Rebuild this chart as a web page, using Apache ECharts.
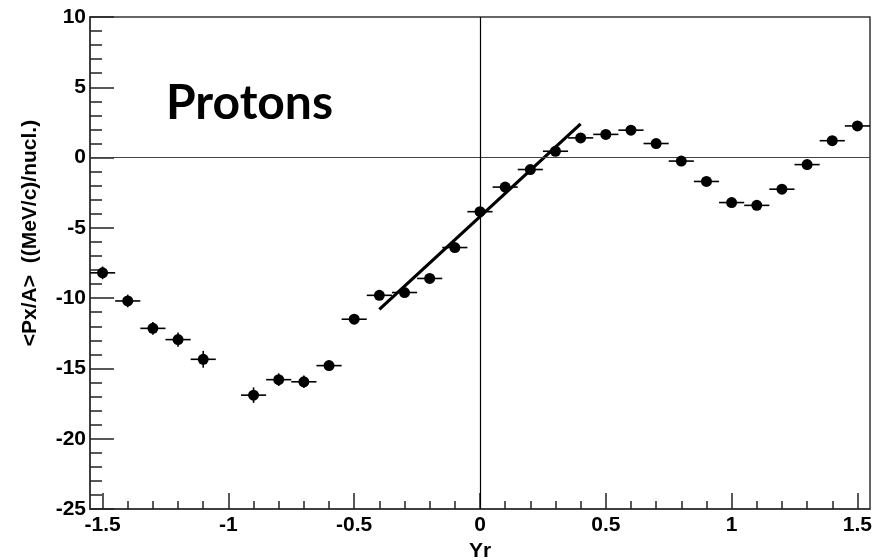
<!DOCTYPE html>
<html>
<head>
<meta charset="utf-8">
<script src="https://cdn.jsdelivr.net/npm/echarts@6/dist/echarts.min.js"></script>
<style>
html, body { margin: 0; padding: 0; background: #fff; }
#chart { width: 884px; height: 560px; }
</style>
</head>
<body>
<div id="chart"></div>
<script>
// rapidity bins (centres) and mean in-plane momentum per nucleon
var yr  = [-1.5, -1.4, -1.3, -1.2, -1.1, -0.9, -0.8, -0.7, -0.6, -0.5,
           -0.4, -0.3, -0.2, -0.1, 0.0, 0.1, 0.2, 0.3, 0.4, 0.5,
           0.6, 0.7, 0.8, 0.9, 1.0, 1.1, 1.2, 1.3, 1.4, 1.5];
var pxa = [-8.2, -10.2, -12.15, -12.95, -14.35, -16.9, -15.8, -15.95, -14.8, -11.5,
           -9.8, -9.6, -8.6, -6.4, -3.85, -2.1, -0.85, 0.45, 1.4, 1.65,
           1.95, 1.0, -0.25, -1.7, -3.2, -3.4, -2.25, -0.5, 1.2, 2.25];
var pxaErr = [0.45, 0.45, 0.45, 0.5, 0.6, 0.55, 0.45, 0.45, 0.35, 0.3,
              0.3, 0.3, 0.3, 0.3, 0.3, 0.3, 0.3, 0.3, 0.25, 0.25,
              0.25, 0.25, 0.25, 0.25, 0.25, 0.25, 0.25, 0.25, 0.25, 0.25];
var binHalf = 0.05;

// linear fit around mid-rapidity
var fitX = [-0.4, 0.4];
var fitY = [-10.8, 2.4];

var xMajor = [-1.5, -1, -0.5, 0, 0.5, 1, 1.5];
var xMinor = [-1.5, -1.4, -1.3, -1.2, -1.1, -1.0, -0.9, -0.8, -0.7, -0.6, -0.5,
              -0.4, -0.3, -0.2, -0.1, 0, 0.1, 0.2, 0.3, 0.4, 0.5,
              0.6, 0.7, 0.8, 0.9, 1.0, 1.1, 1.2, 1.3, 1.4, 1.5];

var points = yr.map(function (x, i) { return [x, pxa[i], pxaErr[i], binHalf]; });
var fitLine = fitX.map(function (x, i) { return [x, fitY[i]]; });

var myChart = echarts.init(document.getElementById('chart'));

function errBars(params, api) {
    var x = api.value(0), y = api.value(1), e = api.value(2), h = api.value(3);
    var a = api.coord([x - h, y]), b = api.coord([x + h, y]);
    var c = api.coord([x, y - e]), d = api.coord([x, y + e]);
    var st = { stroke: '#000', lineWidth: 1.6 };
    return {
        type: 'group',
        children: [
            { type: 'line', shape: { x1: a[0], y1: a[1], x2: b[0], y2: b[1] }, style: st },
            { type: 'line', shape: { x1: c[0], y1: c[1], x2: d[0], y2: d[1] }, style: st }
        ]
    };
}

var lblFont = { color: '#000', fontFamily: 'Liberation Sans', fontWeight: 'bold', fontSize: 21 };

var option = {
    animation: false,
    backgroundColor: '#fff',
    grid: {
        left: 90, top: 17, width: 780, height: 492,
        outerBoundsMode: 'none', containLabel: false,
        show: true, borderColor: '#333', borderWidth: 1.5, backgroundColor: 'transparent'
    },
    xAxis: [{
        type: 'value', position: 'bottom', min: -1.55, max: 1.55,
        name: 'Yr', nameLocation: 'middle', nameGap: 30,
        nameTextStyle: lblFont,
        axisLine: { show: true, onZero: false, lineStyle: { color: '#333', width: 1.5 } },
        axisTick: { show: true, inside: true, length: 16, customValues: xMajor, lineStyle: { color: '#222', width: 1.5 } },
        axisLabel: Object.assign({ customValues: xMajor, margin: 6 }, lblFont),
        splitLine: { show: false }
    }, {
        type: 'value', position: 'bottom', min: -1.55, max: 1.55,
        axisLine: { show: false, onZero: false },
        axisTick: { show: true, inside: true, length: 8, customValues: xMinor, lineStyle: { color: '#222', width: 1.5 } },
        axisLabel: { show: false },
        splitLine: { show: false }
    }],
    yAxis: {
        type: 'value', min: -25, max: 10, interval: 5,
        axisLine: { show: true, onZero: false, lineStyle: { color: '#333', width: 1.5 } },
        axisTick: { show: true, inside: true, length: 24, lineStyle: { color: '#222', width: 1.5 } },
        minorTick: { show: true, splitNumber: 5, length: 12, lineStyle: { color: '#222', width: 1.5 } },
        axisLabel: Object.assign({ margin: 4 }, lblFont),
        splitLine: { show: false }
    },
    graphic: [{
        type: 'text', left: 166, top: 80,
        style: { text: 'Protons', fill: '#000', font: 'bold 48px Lato' }
    }, {
        type: 'text', x: 30, y: 233, rotation: Math.PI / 2,
        style: {
            text: '<Px/A>  ((MeV/c)/nucl.)', fill: '#000',
            font: 'bold 21px "Liberation Sans"', align: 'center', verticalAlign: 'middle'
        }
    }],
    series: [{
        type: 'line', data: [], xAxisIndex: 0, silent: true,
        markLine: {
            silent: true, symbol: 'none', label: { show: false },
            lineStyle: { type: 'solid', width: 1.2 },
            data: [
                { yAxis: 0, lineStyle: { color: '#444' } },
                { xAxis: 0, lineStyle: { color: '#000' } }
            ]
        }
    }, {
        type: 'custom', xAxisIndex: 0, renderItem: errBars,
        data: points, z: 3, silent: true
    }, {
        type: 'line', xAxisIndex: 0, data: fitLine, symbol: 'none',
        lineStyle: { color: '#000', width: 3.2 }, z: 4, silent: true
    }, {
        type: 'scatter', xAxisIndex: 0, data: points, symbol: 'circle', symbolSize: 11,
        itemStyle: { color: '#000', opacity: 1 }, z: 5, silent: true
    }]
};

myChart.setOption(option);
</script>
</body>
</html>
